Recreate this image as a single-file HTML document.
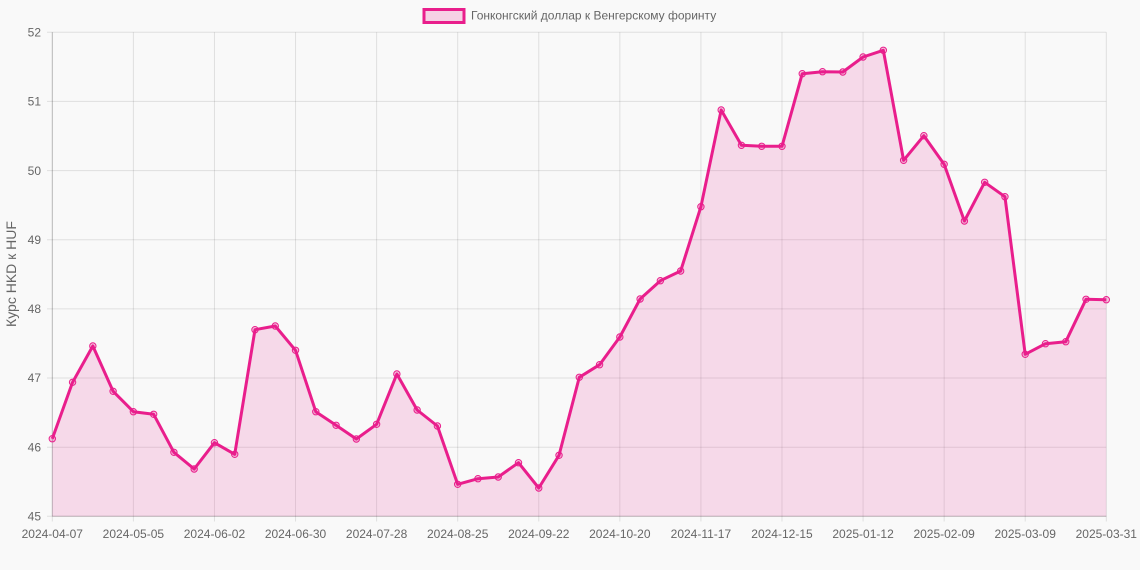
<!DOCTYPE html>
<html>
<head>
<meta charset="utf-8">
<style>
  html, body { margin:0; padding:0; background:#f9f9f9; }
  svg { display:block; }
  text { font-family: "Liberation Sans", "DejaVu Sans", sans-serif; fill:#666; }
</style>
</head>
<body>
<svg width="1140" height="570" viewBox="0 0 1140 570" xmlns="http://www.w3.org/2000/svg">
  <rect x="0" y="0" width="1140" height="570" fill="#f9f9f9"/>

  <rect x="424" y="9.5" width="40" height="13" fill="rgba(233,30,140,0.18)" stroke="#e91e8c" stroke-width="3"/>
  <text x="471" y="19.5" font-size="12">Гонконгский доллар к Венгерскому форинту</text>

  <g stroke="rgba(0,0,0,0.1)" stroke-width="1">
    <line x1="47" y1="32.3" x2="1106.3" y2="32.3"/>
    <line x1="47" y1="101.4" x2="1106.3" y2="101.4"/>
    <line x1="47" y1="170.6" x2="1106.3" y2="170.6"/>
    <line x1="47" y1="239.7" x2="1106.3" y2="239.7"/>
    <line x1="47" y1="308.9" x2="1106.3" y2="308.9"/>
    <line x1="47" y1="378.0" x2="1106.3" y2="378.0"/>
    <line x1="47" y1="447.2" x2="1106.3" y2="447.2"/>
    <line x1="47" y1="516.3" x2="1106.3" y2="516.3"/>
    <line x1="52.3" y1="32.3" x2="52.3" y2="521.5"/>
    <line x1="133.38" y1="32.3" x2="133.38" y2="521.5"/>
    <line x1="214.45" y1="32.3" x2="214.45" y2="521.5"/>
    <line x1="295.53" y1="32.3" x2="295.53" y2="521.5"/>
    <line x1="376.6" y1="32.3" x2="376.6" y2="521.5"/>
    <line x1="457.68" y1="32.3" x2="457.68" y2="521.5"/>
    <line x1="538.76" y1="32.3" x2="538.76" y2="521.5"/>
    <line x1="619.83" y1="32.3" x2="619.83" y2="521.5"/>
    <line x1="700.91" y1="32.3" x2="700.91" y2="521.5"/>
    <line x1="781.98" y1="32.3" x2="781.98" y2="521.5"/>
    <line x1="863.06" y1="32.3" x2="863.06" y2="521.5"/>
    <line x1="944.14" y1="32.3" x2="944.14" y2="521.5"/>
    <line x1="1025.21" y1="32.3" x2="1025.21" y2="521.5"/>
    <line x1="1106.3" y1="32.3" x2="1106.3" y2="521.5"/>
  </g>
  <line x1="52.3" y1="32.3" x2="52.3" y2="516.3" stroke="rgba(0,0,0,0.18)" stroke-width="1"/>
  <line x1="52.3" y1="516.3" x2="1106.3" y2="516.3" stroke="rgba(0,0,0,0.18)" stroke-width="1"/>

  <g font-size="12" text-anchor="end">
    <text x="41" y="36.5">52</text>
    <text x="41" y="105.6">51</text>
    <text x="41" y="174.8">50</text>
    <text x="41" y="243.9">49</text>
    <text x="41" y="313.1">48</text>
    <text x="41" y="382.2">47</text>
    <text x="41" y="451.4">46</text>
    <text x="41" y="520.5">45</text>
  </g>

  <text x="0" y="0" font-size="14" text-anchor="middle" transform="translate(16,274) rotate(-90)">Курс HKD к HUF</text>

  <g font-size="12" text-anchor="middle">
    <text x="52.3" y="538">2024-04-07</text>
    <text x="133.38" y="538">2024-05-05</text>
    <text x="214.45" y="538">2024-06-02</text>
    <text x="295.53" y="538">2024-06-30</text>
    <text x="376.6" y="538">2024-07-28</text>
    <text x="457.68" y="538">2024-08-25</text>
    <text x="538.76" y="538">2024-09-22</text>
    <text x="619.83" y="538">2024-10-20</text>
    <text x="700.91" y="538">2024-11-17</text>
    <text x="781.98" y="538">2024-12-15</text>
    <text x="863.06" y="538">2025-01-12</text>
    <text x="944.14" y="538">2025-02-09</text>
    <text x="1025.21" y="538">2025-03-09</text>
    <text x="1106.3" y="538">2025-03-31</text>
  </g>

  <polygon fill="rgba(233,30,140,0.14)" points="52.3,516.3 52.3,438.7 72.57,382.3 92.84,346 113.11,391.3 133.38,411.7 153.65,414.3 173.91,452.3 194.18,469 214.45,442.7 234.72,454.3 254.99,329.7 275.26,326 295.53,350.3 315.80,411.7 336.07,425.3 356.34,439 376.60,424.3 396.87,374 417.14,410 437.41,426 457.68,484.3 477.95,478.7 498.22,477 518.49,462.7 538.76,488 559.03,455.3 579.29,377.3 599.56,364.7 619.83,337 640.10,299 660.37,280.7 680.64,271 700.91,206.7 721.18,110 741.45,145.3 761.72,146.3 781.98,146.3 802.25,73.7 822.52,71.7 842.79,72 863.06,57 883.33,50.3 903.60,160.3 923.87,135.7 944.14,164.3 964.41,221 984.67,182.3 1004.94,196.7 1025.21,354.3 1045.48,343.7 1065.75,341.7 1086.02,299.3 1106.3,299.7 1106.3,516.3"/>

  <polyline fill="none" stroke="#e91e8c" stroke-width="3" stroke-linejoin="round" points="52.3,438.7 72.57,382.3 92.84,346 113.11,391.3 133.38,411.7 153.65,414.3 173.91,452.3 194.18,469 214.45,442.7 234.72,454.3 254.99,329.7 275.26,326 295.53,350.3 315.80,411.7 336.07,425.3 356.34,439 376.60,424.3 396.87,374 417.14,410 437.41,426 457.68,484.3 477.95,478.7 498.22,477 518.49,462.7 538.76,488 559.03,455.3 579.29,377.3 599.56,364.7 619.83,337 640.10,299 660.37,280.7 680.64,271 700.91,206.7 721.18,110 741.45,145.3 761.72,146.3 781.98,146.3 802.25,73.7 822.52,71.7 842.79,72 863.06,57 883.33,50.3 903.60,160.3 923.87,135.7 944.14,164.3 964.41,221 984.67,182.3 1004.94,196.7 1025.21,354.3 1045.48,343.7 1065.75,341.7 1086.02,299.3 1106.3,299.7"/>

  <g fill="rgba(233,30,140,0.25)" stroke="#e91e8c" stroke-width="1">
    <circle cx="52.3" cy="438.7" r="3.2"/>
    <circle cx="72.57" cy="382.3" r="3.2"/>
    <circle cx="92.84" cy="346" r="3.2"/>
    <circle cx="113.11" cy="391.3" r="3.2"/>
    <circle cx="133.38" cy="411.7" r="3.2"/>
    <circle cx="153.65" cy="414.3" r="3.2"/>
    <circle cx="173.91" cy="452.3" r="3.2"/>
    <circle cx="194.18" cy="469" r="3.2"/>
    <circle cx="214.45" cy="442.7" r="3.2"/>
    <circle cx="234.72" cy="454.3" r="3.2"/>
    <circle cx="254.99" cy="329.7" r="3.2"/>
    <circle cx="275.26" cy="326" r="3.2"/>
    <circle cx="295.53" cy="350.3" r="3.2"/>
    <circle cx="315.80" cy="411.7" r="3.2"/>
    <circle cx="336.07" cy="425.3" r="3.2"/>
    <circle cx="356.34" cy="439" r="3.2"/>
    <circle cx="376.60" cy="424.3" r="3.2"/>
    <circle cx="396.87" cy="374" r="3.2"/>
    <circle cx="417.14" cy="410" r="3.2"/>
    <circle cx="437.41" cy="426" r="3.2"/>
    <circle cx="457.68" cy="484.3" r="3.2"/>
    <circle cx="477.95" cy="478.7" r="3.2"/>
    <circle cx="498.22" cy="477" r="3.2"/>
    <circle cx="518.49" cy="462.7" r="3.2"/>
    <circle cx="538.76" cy="488" r="3.2"/>
    <circle cx="559.03" cy="455.3" r="3.2"/>
    <circle cx="579.29" cy="377.3" r="3.2"/>
    <circle cx="599.56" cy="364.7" r="3.2"/>
    <circle cx="619.83" cy="337" r="3.2"/>
    <circle cx="640.10" cy="299" r="3.2"/>
    <circle cx="660.37" cy="280.7" r="3.2"/>
    <circle cx="680.64" cy="271" r="3.2"/>
    <circle cx="700.91" cy="206.7" r="3.2"/>
    <circle cx="721.18" cy="110" r="3.2"/>
    <circle cx="741.45" cy="145.3" r="3.2"/>
    <circle cx="761.72" cy="146.3" r="3.2"/>
    <circle cx="781.98" cy="146.3" r="3.2"/>
    <circle cx="802.25" cy="73.7" r="3.2"/>
    <circle cx="822.52" cy="71.7" r="3.2"/>
    <circle cx="842.79" cy="72" r="3.2"/>
    <circle cx="863.06" cy="57" r="3.2"/>
    <circle cx="883.33" cy="50.3" r="3.2"/>
    <circle cx="903.60" cy="160.3" r="3.2"/>
    <circle cx="923.87" cy="135.7" r="3.2"/>
    <circle cx="944.14" cy="164.3" r="3.2"/>
    <circle cx="964.41" cy="221" r="3.2"/>
    <circle cx="984.67" cy="182.3" r="3.2"/>
    <circle cx="1004.94" cy="196.7" r="3.2"/>
    <circle cx="1025.21" cy="354.3" r="3.2"/>
    <circle cx="1045.48" cy="343.7" r="3.2"/>
    <circle cx="1065.75" cy="341.7" r="3.2"/>
    <circle cx="1086.02" cy="299.3" r="3.2"/>
    <circle cx="1106.3" cy="299.7" r="3.2"/>
  </g>
</svg>
</body>
</html>
